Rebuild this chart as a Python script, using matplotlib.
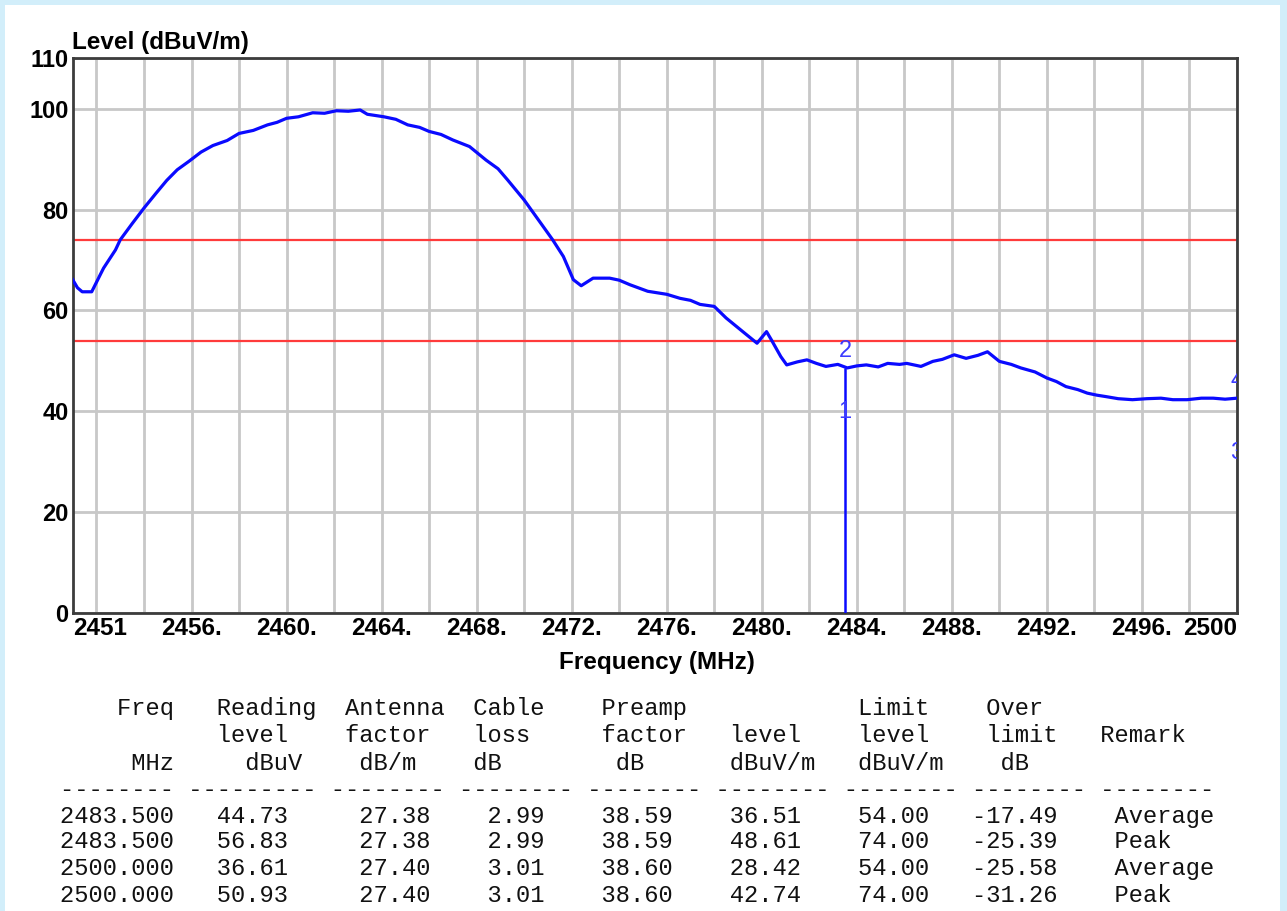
import matplotlib.pyplot as plt
from matplotlib.patches import Rectangle

# trace (MHz, dBuV/m)
freq_mhz = [2451.0, 2451.2, 2451.4, 2451.8, 2452.15, 2452.3, 2452.8, 2453.0, 2453.5, 2454.0,
            2454.5, 2454.96, 2455.4, 2455.9, 2456.4, 2456.9, 2457.5, 2458.0, 2458.6, 2459.2,
            2459.6, 2460.0, 2460.5, 2461.1, 2461.6, 2462.1, 2462.6, 2463.1, 2463.4, 2464.1,
            2464.6, 2465.1, 2465.6, 2466.0, 2466.5, 2467.0, 2467.7, 2468.4, 2468.9, 2469.3,
            2470.0, 2470.7, 2471.2, 2471.65, 2472.07, 2472.4, 2472.9, 2473.6, 2474.0, 2474.45,
            2475.2, 2476.0, 2476.56, 2477.0, 2477.4, 2478.0, 2478.5, 2479.2, 2479.8, 2480.2,
            2480.4, 2480.8, 2481.05, 2481.5, 2481.9, 2482.3, 2482.7, 2483.2, 2483.6, 2484.0,
            2484.4, 2484.9, 2485.3, 2485.8, 2486.1, 2486.7, 2487.2, 2487.6, 2488.1, 2488.6,
            2489.1, 2489.5, 2490.0, 2490.5, 2490.9, 2491.5, 2492.0, 2492.4, 2492.8, 2493.3,
            2493.7, 2494.1, 2494.5, 2495.0, 2495.6, 2496.2, 2496.8, 2497.3, 2497.9, 2498.5,
            2499.0, 2499.5, 2500.0]
level_dbuv = [66.1, 64.5, 63.7, 63.7, 67.0, 68.4, 72.0, 74.0, 77.2, 80.3,
              83.2, 85.8, 87.9, 89.6, 91.4, 92.7, 93.7, 95.1, 95.7, 96.8,
              97.3, 98.1, 98.4, 99.2, 99.1, 99.6, 99.5, 99.75, 98.9, 98.4,
              97.9, 96.8, 96.3, 95.5, 94.9, 93.8, 92.5, 89.8, 88.1, 85.9,
              81.9, 77.3, 74.0, 70.7, 66.1, 64.9, 66.4, 66.4, 66.0, 65.1,
              63.8, 63.2, 62.4, 62.0, 61.2, 60.8, 58.5, 55.8, 53.5, 55.8,
              54.2, 50.85, 49.2, 49.8, 50.2, 49.5, 48.9, 49.3, 48.6, 49.0,
              49.2, 48.8, 49.5, 49.3, 49.5, 48.9, 49.9, 50.3, 51.2, 50.5,
              51.1, 51.8, 49.9, 49.3, 48.6, 47.8, 46.6, 45.9, 44.9, 44.3,
              43.6, 43.2, 42.9, 42.5, 42.3, 42.5, 42.6, 42.3, 42.3, 42.6,
              42.6, 42.4, 42.6]

limit_levels = [74, 54]

y_ticks = [0, 20, 40, 60, 80, 100, 110]
x_grid = list(range(2452, 2501, 2))
x_ticks = [2451, 2456, 2460, 2464, 2468, 2472, 2476, 2480, 2484, 2488, 2492, 2496, 2500]
x_tick_labels = ['2451', '2456.', '2460.', '2464.', '2468.', '2472.', '2476.', '2480.',
                 '2484.', '2488.', '2492.', '2496.', '2500']

# result table
t_freq = [2483.5, 2483.5, 2500.0, 2500.0]
t_reading = [44.73, 56.83, 36.61, 50.93]
t_antenna = [27.38, 27.38, 27.40, 27.40]
t_cable = [2.99, 2.99, 3.01, 3.01]
t_preamp = [38.59, 38.59, 38.60, 38.60]
t_level = [36.51, 48.61, 28.42, 42.74]
t_limit = [54.00, 74.00, 54.00, 74.00]
t_over = [-17.49, -25.39, -25.58, -31.26]
t_remark = ['Average', 'Peak', 'Average', 'Peak']

W, H = 1287, 911
fig = plt.figure(figsize=(W / 100, H / 100), dpi=100)
fig.patch.set_facecolor('#d2eefa')
fig.add_artist(Rectangle((5 / W, 0), (1280 - 5) / W, 1 - 5 / H, transform=fig.transFigure,
                         facecolor='white', edgecolor='none', zorder=0))

ax = fig.add_axes([72.7 / W, 1 - 613 / H, (1237 - 72.7) / W, (613 - 58.3) / H])
ax.set_xlim(2451, 2500)
ax.set_ylim(0, 110)

for gx in x_grid:
    ax.axvline(gx, color='#c8c8c8', lw=2, zorder=1)
for gy in y_ticks:
    ax.axhline(gy, color='#c8c8c8', lw=2, zorder=1)

for lim in limit_levels:
    ax.axhline(lim, color='#ff3b3b', lw=1.6, zorder=2)

ax.plot(freq_mhz, level_dbuv, color='#0a0aff', lw=2.3, zorder=3)
ax.vlines(t_freq[1], 0, t_level[1], color='#0a0aff', lw=1.8, zorder=3)

# marker numbers
for i in range(len(t_freq)):
    ax.text(t_freq[i], t_level[i] + 3.3, str(i + 1), color='#3c3cff', fontsize=17,
            family='Liberation Sans', ha='center', va='center', zorder=4, clip_on=True)

for s in ax.spines.values():
    s.set_color('#3c3c3c')
    s.set_linewidth(2)
ax.tick_params(length=0)
ax.set_yticks(y_ticks)
ax.set_yticklabels([str(v) for v in y_ticks], fontsize=17, fontweight='bold',
                   family='Liberation Sans')
ax.set_xticks(x_ticks)
ax.set_xticklabels(x_tick_labels, fontsize=17.5, fontweight='bold', family='Liberation Sans')
ax.tick_params(axis='y', pad=3)
ax.tick_params(axis='x', pad=3)
xl = ax.get_xticklabels()
xl[0].set_ha('left')
xl[-1].set_ha('right')

fig.text(72 / W, 1 - 42 / H, 'Level (dBuV/m)', fontsize=17.5, fontweight='bold',
         family='Liberation Sans', va='center', ha='left')
fig.text(657 / W, 1 - 662 / H, 'Frequency (MHz)', fontsize=17.5, fontweight='bold',
         family='Liberation Sans', va='center', ha='center')


def build(parts):
    line = ''
    for col, word in parts:
        line = line.ljust(col) + word
    return line


lines = [
    build([(4, 'Freq'), (11, 'Reading'), (20, 'Antenna'), (29, 'Cable'), (38, 'Preamp'),
           (56, 'Limit'), (65, 'Over')]),
    build([(11, 'level'), (20, 'factor'), (29, 'loss'), (38, 'factor'), (47, 'level'),
           (56, 'level'), (65, 'limit'), (73, 'Remark')]),
    build([(5, 'MHz'), (13, 'dBuV'), (21, 'dB/m'), (29, 'dB'), (39, 'dB'), (47, 'dBuV/m'),
           (56, 'dBuV/m'), (66, 'dB')]),
    build([(0, '-' * 8), (9, '-' * 9), (19, '-' * 8), (28, '-' * 8), (37, '-' * 8),
           (46, '-' * 8), (55, '-' * 8), (64, '-' * 8), (73, '-' * 8)]),
]
for i in range(len(t_freq)):
    lines.append(build([(0, f'{t_freq[i]:.3f}'), (11, f'{t_reading[i]:.2f}'),
                        (21, f'{t_antenna[i]:.2f}'), (30, f'{t_cable[i]:.2f}'),
                        (38, f'{t_preamp[i]:.2f}'), (47, f'{t_level[i]:.2f}'),
                        (56, f'{t_limit[i]:.2f}'), (64, f'{t_over[i]:.2f}'),
                        (74, t_remark[i])]))

line_y = [709, 736, 763, 789, 816, 842, 868, 895]
for ly, txt in zip(line_y, lines):
    fig.text(60 / W, 1 - ly / H, txt, family='Liberation Mono', fontsize=17.1,
             va='center', ha='left', color='#111111')

fig.savefig('out.png', dpi=100, facecolor=fig.get_facecolor())
